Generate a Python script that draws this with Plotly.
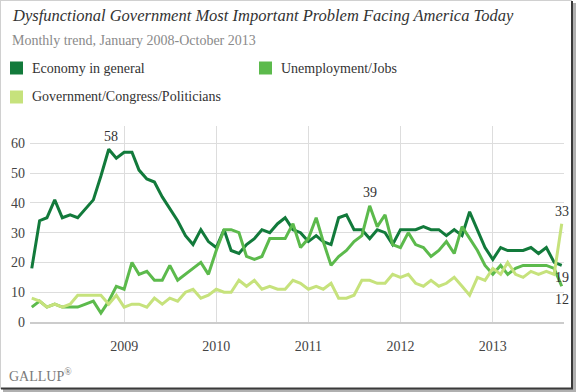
import plotly.graph_objects as go
import pandas as pd

# ---------------- data ----------------
months = pd.date_range("2008-01-01", "2013-10-01", freq="MS").strftime("%Y-%m-%d").tolist()

economy = [18, 34, 35, 41, 35, 36, 35, 38, 41, 49, 58, 55,
           57, 57, 51, 48, 47, 42, 38, 34, 29, 26, 31, 27,
           25, 31, 24, 23, 26, 28, 31, 30, 33, 35, 31, 30,
           27, 29, 27, 26, 35, 36, 31, 31, 28, 31, 30, 26,
           31, 31, 31, 32, 31, 31, 29, 31, 29, 37, 31, 25,
           21, 25, 24, 24, 24, 25, 23, 25, 20, 19]

unemployment = [5, 7, 5, 6, 5, 5, 5, 6, 7, 3, 7, 12,
                11, 20, 16, 17, 14, 14, 19, 14, 16, 18, 20, 16,
                24, 31, 31, 30, 22, 21, 22, 28, 28, 28, 33, 25,
                28, 35, 27, 19, 22, 24, 27, 29, 39, 32, 36, 26,
                25, 30, 26, 25, 22, 24, 27, 23, 32, 28, 24, 19,
                16, 19, 16, 18, 19, 19, 19, 19, 18, 12]

government = [8, 7, 5, 6, 5, 6, 9, 9, 9, 9, 6, 9,
              5, 6, 6, 5, 8, 6, 8, 7, 10, 11, 8, 9,
              11, 10, 10, 14, 12, 14, 11, 12, 11, 11, 14, 13,
              11, 12, 11, 13, 8, 8, 9, 14, 14, 13, 13, 16,
              15, 16, 13, 12, 14, 12, 13, 15, 12, 9, 15, 14,
              18, 16, 20, 16, 15, 17, 16, 17, 16, 33]

series_names = ["Economy in general", "Unemployment/Jobs", "Government/Congress/Politicians"]
series_colors = ["#127a3b", "#5cba4c", "#c6e27c"]

year_ticks = ["2009-01-01", "2010-01-01", "2011-01-01", "2012-01-01", "2013-01-01"]
year_labels = ["2009", "2010", "2011", "2012", "2013"]
y_ticks = [0, 10, 20, 30, 40, 50, 60]

# ---------------- layout helpers (pixel -> paper) ----------------
W, H = 576, 392
L, R, T, B = 30, 564, 126, 322


def fx(p):
    return (p - L) / (R - L)


def fy(p):
    return (B - p) / (B - T)


SERIF = "Liberation Serif, DejaVu Serif, serif"

fig = go.Figure()
for name, vals, col in zip(series_names, [economy, unemployment, government], series_colors):
    fig.add_trace(go.Scatter(x=months, y=vals, mode="lines", name=name,
                             line=dict(color=col, width=3), showlegend=False,
                             cliponaxis=False))

annotations = []
# title & subtitle
annotations.append(dict(x=fx(10), y=fy(15), xref="paper", yref="paper", xanchor="left", yanchor="middle",
                        text="<i>Dysfunctional Government Most Important Problem Facing America Today</i>",
                        showarrow=False, font=dict(family=SERIF, size=16.5, color="#333333")))
annotations.append(dict(x=fx(10), y=fy(40), xref="paper", yref="paper", xanchor="left", yanchor="middle",
                        text="Monthly trend, January 2008-October 2013",
                        showarrow=False, font=dict(family=SERIF, size=14, color="#8a8a8a")))

# legend (squares + labels)
shapes = []
legend_pos = [(10, 68), (259, 68), (10, 97)]
for (lx, ly), name, col in zip(legend_pos, series_names, series_colors):
    shapes.append(dict(type="rect", xref="paper", yref="paper",
                       x0=fx(lx), x1=fx(lx + 13), y0=fy(ly - 6.5), y1=fy(ly + 6.5),
                       fillcolor=col, line=dict(width=0)))
    annotations.append(dict(x=fx(lx + 20), y=fy(ly), xref="paper", yref="paper",
                            xanchor="left", yanchor="middle", text=name, showarrow=False,
                            font=dict(family=SERIF, size=14, color="#333333")))

# value labels
lab_font = dict(family=SERIF, size=14, color="#333333")
annotations.append(dict(x=months[10], y=economy[10], text="58", showarrow=False, yshift=13, xshift=2, font=lab_font))
annotations.append(dict(x=months[44], y=unemployment[44], text="39", showarrow=False, yshift=13, font=lab_font))
annotations.append(dict(x=months[-1], y=government[-1], text="33", showarrow=False, yshift=12, font=lab_font))
annotations.append(dict(x=months[-1], y=economy[-1], text="19", showarrow=False, yshift=-12, font=lab_font))
annotations.append(dict(x=months[-1], y=unemployment[-1], text="12", showarrow=False, yshift=-13, font=lab_font))

# footer
annotations.append(dict(x=fx(7), y=fy(375), xref="paper", yref="paper", xanchor="left", yanchor="middle",
                        text="GALLUP<sup>®</sup>", showarrow=False,
                        font=dict(family=SERIF, size=14, color="#7a7a7a")))

# frame with drop shadow (right and bottom)
shapes.append(dict(type="line", xref="paper", yref="paper", x0=fx(0.5), x1=fx(0.5), y0=fy(0), y1=fy(389),
                   line=dict(color="#d0d0d0", width=1)))
shapes.append(dict(type="line", xref="paper", yref="paper", x0=fx(0), x1=fx(572), y0=fy(0.5), y1=fy(0.5),
                   line=dict(color="#d0d0d0", width=1)))
shapes.append(dict(type="line", xref="paper", yref="paper", x0=fx(574.5), x1=fx(574.5), y0=fy(3), y1=fy(392),
                   line=dict(color="#b0b0b0", width=3)))
shapes.append(dict(type="line", xref="paper", yref="paper", x0=fx(3), x1=fx(576), y0=fy(390.5), y1=fy(390.5),
                   line=dict(color="#b0b0b0", width=3)))
shapes.append(dict(type="line", xref="paper", yref="paper", x0=fx(572), x1=fx(572), y0=fy(1), y1=fy(389),
                   line=dict(color="#3a3a3a", width=2)))
shapes.append(dict(type="line", xref="paper", yref="paper", x0=fx(1), x1=fx(573), y0=fy(388.5), y1=fy(388.5),
                   line=dict(color="#3a3a3a", width=2)))

fig.update_layout(
    width=W, height=H,
    margin=dict(l=L, r=W - R, t=T, b=H - B),
    paper_bgcolor="white", plot_bgcolor="white",
    showlegend=False,
    annotations=annotations,
    shapes=shapes,
    xaxis=dict(type="date", range=["2007-12-25", "2013-10-10"],
               tickvals=year_ticks, ticktext=year_labels,
               showgrid=True, gridcolor="#dddddd", gridwidth=1,
               showline=True, linecolor="#cccccc", linewidth=2,
               ticks="", ticklabelstandoff=10, zeroline=False,
               tickfont=dict(family=SERIF, size=14, color="#444444")),
    yaxis=dict(range=[0, 65.8], tickvals=y_ticks,
               showgrid=True, gridcolor="#dddddd", gridwidth=1,
               zeroline=False, showline=False, ticks="", ticklabelstandoff=4,
               tickfont=dict(family=SERIF, size=14, color="#444444")),
)

fig.write_html("out.html", config={"displayModeBar": False},
               post_script="document.body.style.margin='0';document.body.style.overflow='hidden';")
